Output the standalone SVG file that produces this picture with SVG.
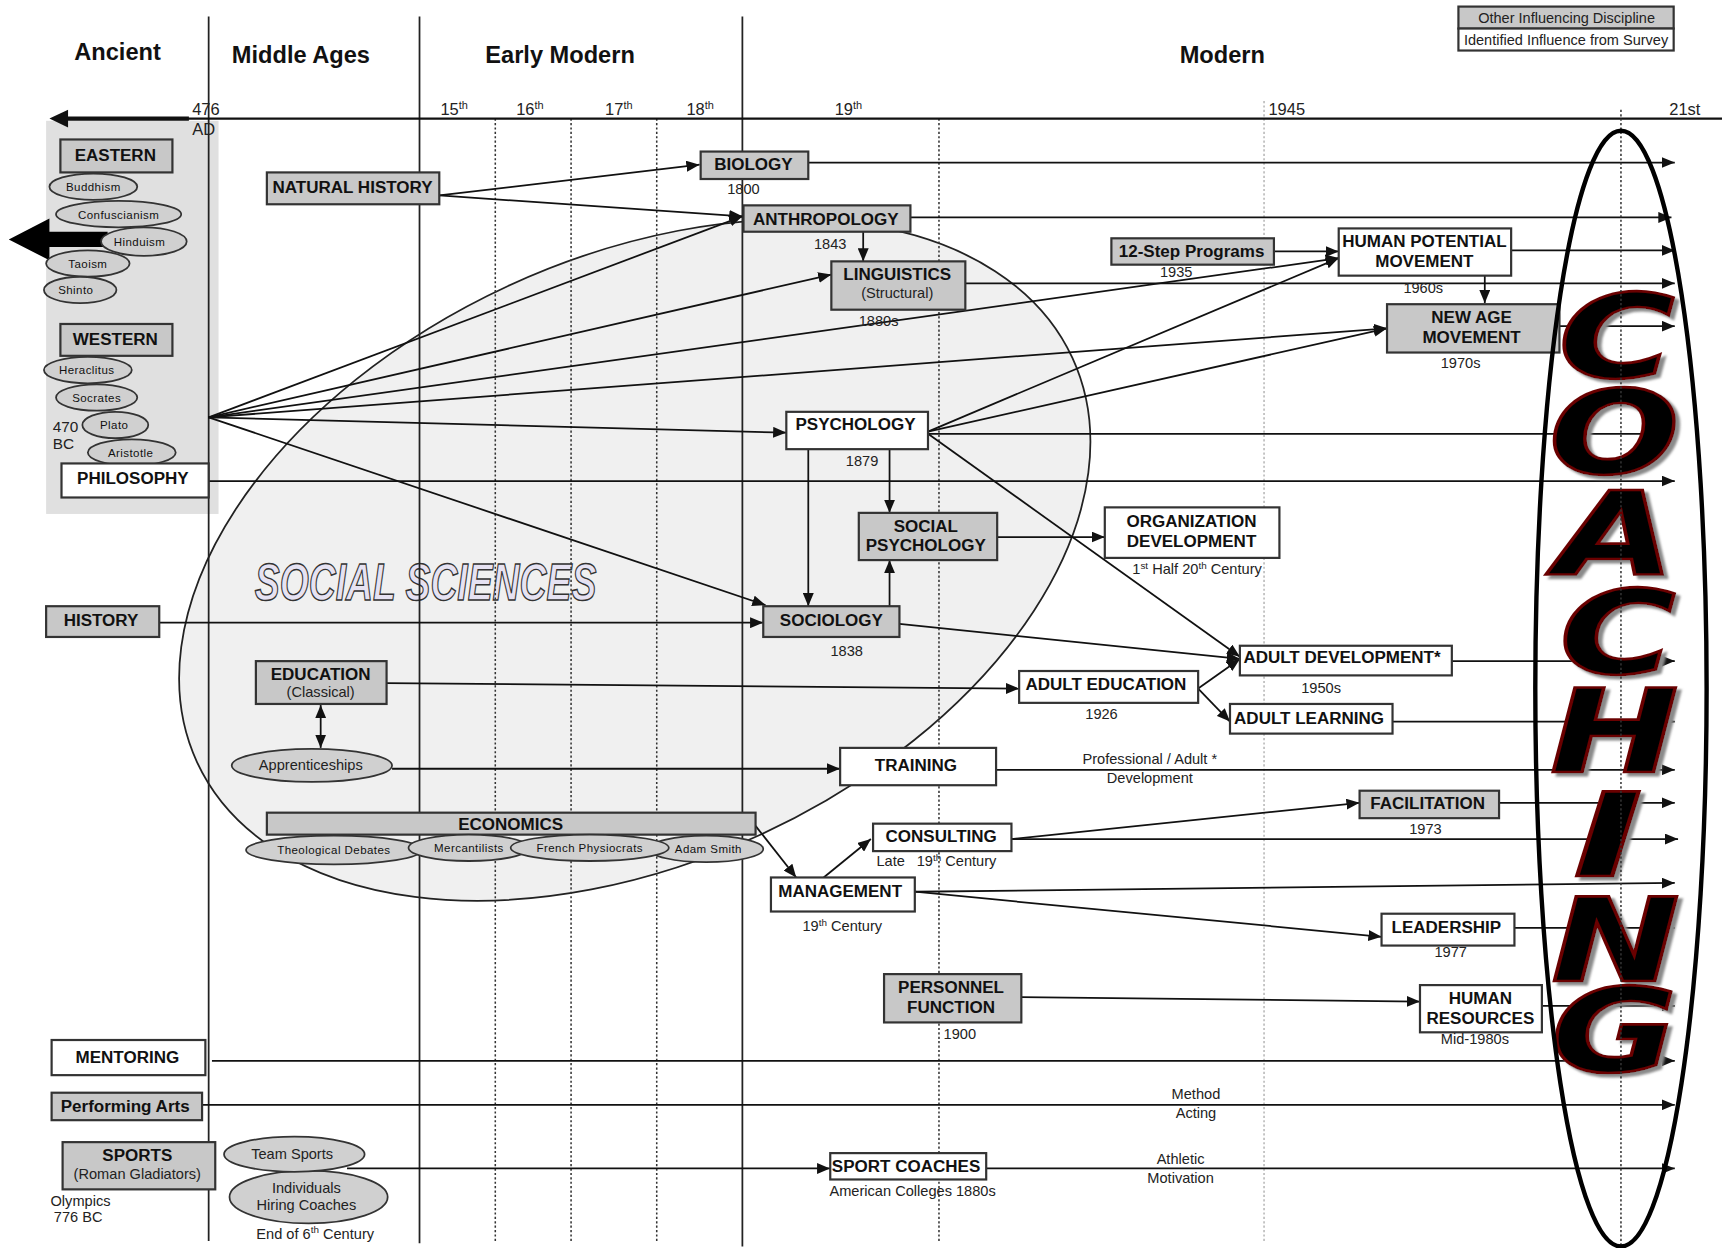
<svg xmlns="http://www.w3.org/2000/svg" width="1722" height="1248" viewBox="0 0 1722 1248">
<defs>
<marker id="a" viewBox="0 0 12 10" refX="12" refY="5" markerWidth="12" markerHeight="10" markerUnits="userSpaceOnUse" orient="auto"><path d="M0,0 L12,5 L0,10 z" fill="#111"/></marker>
<marker id="as" viewBox="0 0 12 10" refX="0" refY="5" markerWidth="12" markerHeight="10" markerUnits="userSpaceOnUse" orient="auto"><path d="M12,0 L0,5 L12,10 z" fill="#111"/></marker>
<filter id="shadow" x="-20%" y="-20%" width="150%" height="150%">
<feDropShadow dx="4" dy="3" stdDeviation="1.2" flood-color="#8a8a8a" flood-opacity="1"/>
</filter>
<style>
.bx{stroke:#333;stroke-width:2}
.g{fill:#c8c8c8}
.w{fill:#fff}
.t{font-family:"Liberation Sans",Arial,sans-serif;font-weight:bold;font-size:15.5px;text-anchor:middle;fill:#111}
.ts{font-family:"Liberation Sans",Arial,sans-serif;font-size:13.3px;text-anchor:middle;fill:#222}
.n{font-family:"Liberation Sans",Arial,sans-serif;font-size:13.3px;text-anchor:middle;fill:#222}
.st{text-anchor:start}
.h{font-family:"Liberation Sans",Arial,sans-serif;font-weight:bold;font-size:21.5px;text-anchor:middle;fill:#111}
.el{fill:#d0d0d0;stroke:#333;stroke-width:1.6}
.et{font-family:"Liberation Sans",Arial,sans-serif;font-size:10.5px;text-anchor:middle;fill:#111;letter-spacing:0.4px}
.c{stroke:#111;stroke-width:1.6;fill:none;marker-end:url(#a)}
.v{stroke:#222;stroke-width:1.6}
.d{stroke:#333;stroke-width:1.4;stroke-dasharray:2,2}
.big{font-family:"DejaVu Sans",Verdana,sans-serif;font-weight:bold;font-style:oblique;font-size:106px;text-anchor:middle;fill:#050505;stroke:#6a0000;stroke-width:2.5}
</style>
</defs>
<g transform="scale(1.09821)">
<rect x="0" y="0" width="1568" height="1137" fill="#fff"/>

<g id="social-sciences-area">
<ellipse cx="578" cy="510" rx="439" ry="275" transform="rotate(-24.8 578 510)" fill="#f0f0f0" stroke="#222" stroke-width="1.6"/>
<text x="232" y="546" textLength="311" lengthAdjust="spacingAndGlyphs" font-family="Liberation Sans, Arial, sans-serif" font-weight="bold" font-style="italic" font-size="47" fill="#e6e2f2" stroke="#333" stroke-width="1.3">SOCIAL SCIENCES</text>
</g>

<g id="ancient-panel">
<rect x="42" y="110" width="157" height="358" fill="#e0e0e0"/>
</g>

<g id="timeline">
<line x1="190" y1="15" x2="190" y2="1130" class="v"/>
<line x1="382" y1="15" x2="382" y2="1132" class="v"/>
<line x1="676" y1="15" x2="676" y2="1135" class="v"/>
<line x1="451" y1="108" x2="451" y2="1130" class="d"/>
<line x1="520" y1="108" x2="520" y2="1130" class="d"/>
<line x1="598" y1="108" x2="598" y2="1130" class="d"/>
<line x1="855" y1="108" x2="855" y2="1130" class="d"/>
<line x1="1151" y1="92" x2="1151" y2="1130" stroke="#aaa" stroke-width="1.2" stroke-dasharray="2,2"/>
<line x1="170" y1="108" x2="1568" y2="108" stroke="#111" stroke-width="2"/>
<line x1="172" y1="108" x2="60" y2="108" stroke="#111" stroke-width="4"/>
<path d="M45,108 L62,100 L62,116 z" fill="#111"/>
<text x="107" y="55" class="h">Ancient</text>
<text x="274" y="57" class="h">Middle Ages</text>
<text x="510" y="57" class="h">Early Modern</text>
<text x="1113" y="57" class="h">Modern</text>
<text x="175" y="105" class="n st" style="font-size:15px">476</text>
<text x="175" y="123" class="n st" style="font-size:15px">AD</text>
<text x="401" y="105" class="n st" style="font-size:15px">15<tspan dy="-6" font-size="10">th</tspan></text>
<text x="470" y="105" class="n st" style="font-size:15px">16<tspan dy="-6" font-size="10">th</tspan></text>
<text x="551" y="105" class="n st" style="font-size:15px">17<tspan dy="-6" font-size="10">th</tspan></text>
<text x="625" y="105" class="n st" style="font-size:15px">18<tspan dy="-6" font-size="10">th</tspan></text>
<text x="760" y="105" class="n st" style="font-size:15px">19<tspan dy="-6" font-size="10">th</tspan></text>
<text x="1155" y="105" class="n st" style="font-size:15px">1945</text>
<text x="1520" y="105" class="n st" style="font-size:15px">21st</text>
</g>

<g id="legend">
<rect x="1328" y="6" width="196" height="20" class="bx g"/>
<rect x="1328" y="26" width="196" height="20" class="bx w"/>
<text x="1346" y="21" class="n st" textLength="161" lengthAdjust="spacingAndGlyphs" style="font-size:14px">Other Influencing Discipline</text>
<text x="1333" y="41" class="n st" textLength="186" lengthAdjust="spacingAndGlyphs" style="font-size:14px">Identified Influence from Survey</text>
</g>

<g id="connectors">
<path class="c" d="M400,178 L637,150"/>
<path class="c" d="M400,178 L676,197"/>
<path class="c" d="M736,148 L1525,148"/>
<path class="c" d="M829,198 L1522,198"/>
<path class="c" d="M786,211 L786,238"/>
<path class="c" d="M879,258 L1525,258"/>
<path class="c" d="M1160,229 L1219,229"/>
<path class="c" d="M1376,228 L1525,228"/>
<path class="c" d="M1352,251 L1352,276"/>
<path class="c" d="M1420,297 L1525,297"/>
<path class="c" d="M190,380 L676,197"/>
<path class="c" d="M190,380 L757,250"/>
<path class="c" d="M190,380 L1219,235"/>
<path class="c" d="M190,380 L1263,299"/>
<path class="c" d="M190,380 L716,394"/>
<path class="c" d="M190,380 L697,551"/>
<path class="c" d="M845,393 L1219,235"/>
<path class="c" d="M845,393 L1263,299"/>
<path class="c" d="M845,395 L1525,395"/>
<path class="c" d="M845,395 L1129,598"/>
<path class="c" d="M736,409 L736,552"/>
<path class="c" d="M810,409 L810,467"/>
<path class="c" d="M810,552 L810,510"/>
<path class="c" d="M908,489 L1006,489"/>
<path class="c" d="M190,438 L1525,438"/>
<path class="c" d="M145,567 L695,567"/>
<path class="c" d="M819,568 L1129,600"/>
<path class="c" d="M352,622 L928,627"/>
<path class="c" d="M292,642 L292,681" marker-start="url(#as)"/>
<path class="c" d="M357,700 L765,700"/>
<path class="c" d="M1091,627 L1129,600"/>
<path class="c" d="M1091,627 L1120,657"/>
<path class="c" d="M1322,602 L1525,602"/>
<path class="c" d="M1268,657 L1525,657"/>
<path class="c" d="M907,701 L1525,701"/>
<path class="c" d="M688,752 L725,799"/>
<path class="c" d="M750,799 L793,764"/>
<path class="c" d="M921,764 L1238,731"/>
<path class="c" d="M921,764 L1528,764"/>
<path class="c" d="M1365,731 L1525,731"/>
<path class="c" d="M833,812 L1525,804"/>
<path class="c" d="M833,812 L1258,853"/>
<path class="c" d="M1379,845 L1525,845"/>
<path class="c" d="M930,908 L1293,912"/>
<path class="c" d="M1404,916 L1525,916"/>
<path class="c" d="M193,966 L1525,966"/>
<path class="c" d="M184,1006 L1525,1006"/>
<path class="c" d="M316,1064 L756,1064"/>
<path class="c" d="M898,1064 L1525,1064"/>
<text x="1047" y="696" class="n">Professional / Adult *</text>
<text x="1047" y="713" class="n">Development</text>
<text x="1089" y="1001" class="n">Method</text>
<text x="1089" y="1018" class="n">Acting</text>
<text x="1075" y="1060" class="n">Athletic</text>
<text x="1075" y="1077" class="n">Motivation</text>
</g>

<g id="eastern">
<rect x="55" y="127" width="102" height="30" class="bx g"/>
<text x="105" y="147" class="t">EASTERN</text>
</g>
<g id="buddhism"><ellipse cx="85" cy="170" rx="40" ry="12" class="el"/><text x="85" y="174" class="et">Buddhism</text></g>
<g id="confuscianism"><ellipse cx="108" cy="195" rx="57" ry="12" class="el"/><text x="108" y="199" class="et">Confuscianism</text></g>
<g id="eastern-arrow"><path d="M8,218 L45,199 L45,211 L98,211 L98,225 L45,225 L45,237 z" fill="#000"/></g>
<g id="hinduism"><ellipse cx="131" cy="220" rx="39" ry="13" class="el"/><text x="127" y="224" class="et">Hinduism</text></g>
<g id="taoism"><ellipse cx="80" cy="240" rx="38" ry="12" class="el"/><text x="80" y="244" class="et">Taoism</text></g>
<g id="shinto"><ellipse cx="73" cy="264" rx="33" ry="12" class="el"/><text x="69" y="268" class="et">Shinto</text></g>

<g id="western">
<rect x="55" y="295" width="102" height="29" class="bx g"/>
<text x="105" y="314" class="t">WESTERN</text>
</g>
<g id="heraclitus"><ellipse cx="80" cy="337" rx="40" ry="12" class="el"/><text x="79" y="341" class="et">Heraclitus</text></g>
<g id="socrates"><ellipse cx="88" cy="362" rx="37" ry="12" class="el"/><text x="88" y="366" class="et">Socrates</text></g>
<g id="plato"><ellipse cx="105" cy="387" rx="30" ry="12" class="el"/><text x="104" y="391" class="et">Plato</text></g>
<g id="aristotle"><ellipse cx="120" cy="412" rx="40" ry="12" class="el"/><text x="119" y="416" class="et">Aristotle</text></g>
<text x="48" y="393" class="n st" style="font-size:14px">470</text>
<text x="48" y="409" class="n st" style="font-size:14px">BC</text>

<g id="philosophy"><rect x="56" y="422" width="134" height="31" class="bx w"/><text x="121" y="441" class="t">PHILOSOPHY</text></g>

<g id="natural-history"><rect x="243" y="157" width="157" height="29" class="bx g"/><text x="321" y="176" class="t">NATURAL HISTORY</text></g>

<g id="biology"><rect x="638" y="138" width="98" height="25" class="bx g"/><text x="686" y="155" class="t">BIOLOGY</text><text x="677" y="177" class="n">1800</text></g>

<g id="anthropology"><rect x="677" y="187" width="152" height="24" class="bx g"/><text x="752" y="205" class="t">ANTHROPOLOGY</text><text x="756" y="227" class="n">1843</text></g>

<g id="linguistics"><rect x="757" y="238" width="122" height="44" class="bx g"/><text x="817" y="255" class="t">LINGUISTICS</text><text x="817" y="271" class="ts">(Structural)</text><text x="800" y="297" class="n">1880s</text></g>

<g id="twelve-step"><rect x="1012" y="217" width="148" height="24" class="bx g"/><text x="1085" y="234" class="t">12-Step Programs</text><text x="1071" y="252" class="n">1935</text></g>

<g id="human-potential"><rect x="1219" y="208" width="157" height="43" class="bx w"/><text x="1297" y="225" class="t">HUMAN POTENTIAL</text><text x="1297" y="243" class="t">MOVEMENT</text><text x="1296" y="267" class="n">1960s</text></g>

<g id="new-age"><rect x="1263" y="277" width="157" height="44" class="bx g"/><text x="1340" y="294" class="t">NEW AGE</text><text x="1340" y="312" class="t">MOVEMENT</text><text x="1330" y="335" class="n">1970s</text></g>

<g id="psychology"><rect x="716" y="375" width="129" height="34" class="bx w"/><text x="779" y="392" class="t">PSYCHOLOGY</text><text x="785" y="424" class="n">1879</text></g>

<g id="social-psychology"><rect x="782" y="467" width="126" height="43" class="bx g"/><text x="843" y="484" class="t">SOCIAL</text><text x="843" y="502" class="t">PSYCHOLOGY</text></g>

<g id="organization-development"><rect x="1006" y="462" width="159" height="46" class="bx w"/><text x="1085" y="480" class="t">ORGANIZATION</text><text x="1085" y="498" class="t">DEVELOPMENT</text><text x="1090" y="523" class="n">1<tspan dy="-5" font-size="9">st</tspan><tspan dy="5"> Half 20</tspan><tspan dy="-5" font-size="9">th</tspan><tspan dy="5"> Century</tspan></text></g>

<g id="sociology"><rect x="695" y="552" width="124" height="28" class="bx g"/><text x="757" y="570" class="t">SOCIOLOGY</text><text x="771" y="597" class="n">1838</text></g>

<g id="history"><rect x="42" y="552" width="103" height="28" class="bx g"/><text x="92" y="570" class="t">HISTORY</text></g>

<g id="education"><rect x="233" y="602" width="119" height="39" class="bx g"/><text x="292" y="619" class="t">EDUCATION</text><text x="292" y="635" class="ts">(Classical)</text></g>

<g id="apprenticeships"><ellipse cx="284" cy="697" rx="73" ry="15" class="el"/><text x="283" y="701" class="ts">Apprenticeships</text></g>

<g id="adult-education"><rect x="928" y="611" width="163" height="29" class="bx w"/><text x="1007" y="628" class="t">ADULT EDUCATION</text><text x="1003" y="655" class="n">1926</text></g>

<g id="adult-development"><rect x="1129" y="588" width="193" height="27" class="bx w"/><text x="1222" y="604" class="t">ADULT DEVELOPMENT*</text><text x="1203" y="631" class="n">1950s</text></g>

<g id="adult-learning"><rect x="1120" y="641" width="148" height="27" class="bx w"/><text x="1192" y="659" class="t">ADULT LEARNING</text></g>

<g id="training"><rect x="765" y="681" width="142" height="34" class="bx w"/><text x="834" y="702" class="t">TRAINING</text></g>

<g id="economics"><rect x="243" y="740" width="445" height="20" class="bx g"/><text x="465" y="756" class="t">ECONOMICS</text></g>
<g id="theological-debates"><ellipse cx="304" cy="774" rx="80" ry="13" class="el"/><text x="304" y="778" class="et">Theological Debates</text></g>
<g id="mercantilists"><ellipse cx="427" cy="772" rx="55" ry="12" class="el"/><text x="427" y="776" class="et">Mercantilists</text></g>
<g id="adam-smith"><ellipse cx="643" cy="773" rx="52" ry="12" class="el"/><text x="645" y="777" class="et">Adam Smith</text></g>
<g id="french-physiocrats"><ellipse cx="537" cy="772" rx="72" ry="12" class="el"/><text x="537" y="776" class="et">French Physiocrats</text></g>

<g id="management"><rect x="702" y="799" width="131" height="31" class="bx w"/><text x="765" y="817" class="t">MANAGEMENT</text><text x="767" y="848" class="n">19<tspan dy="-5" font-size="9">th</tspan><tspan dy="5"> Century</tspan></text></g>

<g id="consulting"><rect x="795" y="750" width="126" height="25" class="bx w"/><text x="857" y="767" class="t">CONSULTING</text><text x="811" y="789" class="n">Late</text><text x="871" y="789" class="n">19<tspan dy="-5" font-size="9">th</tspan><tspan dy="5"> Century</tspan></text></g>

<g id="facilitation"><rect x="1238" y="720" width="127" height="25" class="bx g"/><text x="1300" y="737" class="t">FACILITATION</text><text x="1298" y="759" class="n">1973</text></g>

<g id="leadership"><rect x="1258" y="832" width="121" height="29" class="bx w"/><text x="1317" y="850" class="t">LEADERSHIP</text><text x="1321" y="871" class="n">1977</text></g>

<g id="personnel-function"><rect x="805" y="887" width="125" height="44" class="bx g"/><text x="866" y="904" class="t">PERSONNEL</text><text x="866" y="922" class="t">FUNCTION</text><text x="874" y="946" class="n">1900</text></g>

<g id="human-resources"><rect x="1293" y="897" width="111" height="43" class="bx w"/><text x="1348" y="914" class="t">HUMAN</text><text x="1348" y="932" class="t">RESOURCES</text><text x="1343" y="951" class="n">Mid-1980s</text></g>

<g id="mentoring"><rect x="47" y="947" width="140" height="32" class="bx w"/><text x="116" y="968" class="t">MENTORING</text></g>

<g id="performing-arts"><rect x="47" y="995" width="137" height="25" class="bx g"/><text x="114" y="1013" class="t">Performing Arts</text></g>

<g id="sports"><rect x="57" y="1040" width="139" height="43" class="bx g"/><text x="125" y="1057" class="t">SPORTS</text><text x="125" y="1074" class="ts">(Roman Gladiators)</text><text x="46" y="1098" class="n st">Olympics</text><text x="49" y="1113" class="n st">776 BC</text></g>

<g id="individuals-hiring-coaches"><ellipse cx="281" cy="1090" rx="72" ry="24" class="el"/><text x="279" y="1086" class="ts">Individuals</text><text x="279" y="1102" class="ts">Hiring Coaches</text><text x="287" y="1128" class="n">End of 6<tspan dy="-5" font-size="9">th</tspan><tspan dy="5"> Century</tspan></text></g>
<g id="team-sports"><ellipse cx="268" cy="1051" rx="64" ry="16" class="el"/><text x="266" y="1055" class="ts">Team Sports</text></g>

<g id="sport-coaches"><rect x="756" y="1050" width="142" height="24" class="bx w"/><text x="825" y="1067" class="t">SPORT COACHES</text><text x="831" y="1089" class="n">American Colleges 1880s</text></g>

<g id="coaching">
<g class="big" filter="url(#shadow)">
<text transform="translate(1472,343) scale(1.36,1)">C</text>
<text transform="translate(1470,431) scale(1.32,1)">O</text>
<text transform="translate(1471,523) scale(1.32,1)">A</text>
<text transform="translate(1473,613) scale(1.36,1)">C</text>
<text transform="translate(1470,703) scale(1.32,1)">H</text>
<text transform="translate(1464,798) scale(1.6,1)">I</text>
<text transform="translate(1471,893) scale(1.32,1)">N</text>
<text transform="translate(1470,975) scale(1.32,1)">G</text>
</g>
<line x1="1476" y1="100" x2="1476" y2="1135" class="d"/>
<ellipse cx="1476" cy="627" rx="78" ry="508" fill="none" stroke="#000" stroke-width="4"/>
</g>
</g>
</svg>
